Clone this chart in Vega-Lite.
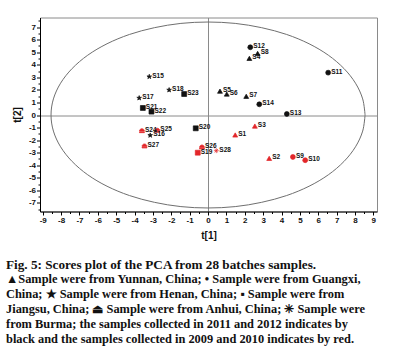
{
  "$schema": "https://vega.github.io/schema/vega-lite/v6.json",
  "width": 337,
  "height": 194,
  "autosize": {"type": "none"},
  "padding": {"left": 40, "top": 17.5, "right": 18, "bottom": 145.5},
  "background": "white",
  "config": {
    "view": {"stroke": "#8a8a8a", "strokeWidth": 1},
    "axis": {
      "labelFont": "Liberation Sans", "labelFontWeight": "bold", "labelFontSize": 8, "labelColor": "#111111",
      "titleFont": "Liberation Sans", "titleFontWeight": "bold", "titleFontSize": 10, "titleColor": "#111111",
      "domainColor": "#000000", "tickColor": "#000000"
    }
  },
  "title": {
    "text": "Fig. 5: Scores plot of the PCA from 28 batches samples.",
    "subtitle": [
      "▲Sample were from Yunnan, China; • Sample were from Guangxi,",
      "China; ★ Sample were from Henan, China; ▪ Sample were from",
      "Jiangsu, China; ⏏ Sample were from Anhui, China; ✳ Sample were",
      "from Burma; the samples collected in 2011 and 2012 indicates by",
      "black and the samples collected in 2009 and 2010 indicates by red."
    ],
    "orient": "bottom",
    "anchor": "start",
    "frame": "group",
    "dx": -34,
    "offset": 19,
    "font": "Liberation Serif",
    "fontSize": 13.2,
    "fontWeight": "bold",
    "color": "#111",
    "subtitleFont": "Liberation Serif",
    "subtitleFontSize": 12.4,
    "subtitleFontWeight": "bold",
    "subtitleColor": "#111",
    "subtitleLineHeight": 15,
    "subtitlePadding": 1
  },
  "datasets": {
    "samples": [
      {"s": "S1", "x": 1.48, "y": -1.59, "origin": "Yunnan", "period": "2009-2010"},
      {"s": "S2", "x": 3.33, "y": -3.45, "origin": "Yunnan", "period": "2009-2010"},
      {"s": "S3", "x": 2.55, "y": -0.88, "origin": "Yunnan", "period": "2009-2010"},
      {"s": "S4", "x": 2.25, "y": 4.51, "origin": "Yunnan", "period": "2011-2012"},
      {"s": "S5", "x": 0.65, "y": 1.9, "origin": "Yunnan", "period": "2011-2012"},
      {"s": "S6", "x": 1.02, "y": 1.67, "origin": "Yunnan", "period": "2011-2012"},
      {"s": "S7", "x": 2.08, "y": 1.49, "origin": "Yunnan", "period": "2011-2012"},
      {"s": "S8", "x": 2.7, "y": 4.9, "origin": "Yunnan", "period": "2011-2012"},
      {"s": "S9", "x": 4.62, "y": -3.34, "origin": "Guangxi", "period": "2009-2010"},
      {"s": "S10", "x": 5.29, "y": -3.6, "origin": "Guangxi", "period": "2009-2010"},
      {"s": "S11", "x": 6.54, "y": 3.37, "origin": "Guangxi", "period": "2011-2012"},
      {"s": "S12", "x": 2.3, "y": 5.39, "origin": "Guangxi", "period": "2011-2012"},
      {"s": "S13", "x": 4.29, "y": 0.08, "origin": "Guangxi", "period": "2011-2012"},
      {"s": "S14", "x": 2.79, "y": 0.85, "origin": "Guangxi", "period": "2011-2012"},
      {"s": "S15", "x": -3.2, "y": 3.05, "origin": "Henan", "period": "2011-2012"},
      {"s": "S16", "x": -3.15, "y": -1.62, "origin": "Henan", "period": "2011-2012"},
      {"s": "S17", "x": -3.75, "y": 1.35, "origin": "Henan", "period": "2011-2012"},
      {"s": "S18", "x": -2.12, "y": 1.99, "origin": "Henan", "period": "2011-2012"},
      {"s": "S19", "x": -0.56, "y": -3.0, "origin": "Jiangsu", "period": "2009-2010"},
      {"s": "S20", "x": -0.67, "y": -1.06, "origin": "Jiangsu", "period": "2011-2012"},
      {"s": "S21", "x": -3.55, "y": 0.56, "origin": "Jiangsu", "period": "2011-2012"},
      {"s": "S22", "x": -3.08, "y": 0.27, "origin": "Jiangsu", "period": "2011-2012"},
      {"s": "S23", "x": -1.3, "y": 1.67, "origin": "Jiangsu", "period": "2011-2012"},
      {"s": "S24", "x": -3.6, "y": -1.25, "origin": "Anhui", "period": "2009-2010"},
      {"s": "S25", "x": -2.76, "y": -1.22, "origin": "Anhui", "period": "2009-2010"},
      {"s": "S26", "x": -0.33, "y": -2.55, "origin": "Anhui", "period": "2009-2010"},
      {"s": "S27", "x": -3.46, "y": -2.47, "origin": "Anhui", "period": "2009-2010"},
      {"s": "S28", "x": 0.45, "y": -2.84, "origin": "Burma", "period": "2009-2010"}
    ],
    "ellipse": [
      {"i": 0, "x": 8.55, "y": 0}, {"i": 1, "x": 8.42, "y": 1.28}, {"i": 2, "x": 8.03, "y": 2.53},
      {"i": 3, "x": 7.4, "y": 3.7}, {"i": 4, "x": 6.55, "y": 4.76}, {"i": 5, "x": 5.5, "y": 5.67},
      {"i": 6, "x": 4.28, "y": 6.41}, {"i": 7, "x": 2.92, "y": 6.95}, {"i": 8, "x": 1.48, "y": 7.29},
      {"i": 9, "x": 0, "y": 7.4}, {"i": 10, "x": -1.48, "y": 7.29}, {"i": 11, "x": -2.92, "y": 6.95},
      {"i": 12, "x": -4.28, "y": 6.41}, {"i": 13, "x": -5.5, "y": 5.67}, {"i": 14, "x": -6.55, "y": 4.76},
      {"i": 15, "x": -7.4, "y": 3.7}, {"i": 16, "x": -8.03, "y": 2.53}, {"i": 17, "x": -8.42, "y": 1.28},
      {"i": 18, "x": -8.55, "y": 0}, {"i": 19, "x": -8.42, "y": -1.28}, {"i": 20, "x": -8.03, "y": -2.53},
      {"i": 21, "x": -7.4, "y": -3.7}, {"i": 22, "x": -6.55, "y": -4.76}, {"i": 23, "x": -5.5, "y": -5.67},
      {"i": 24, "x": -4.28, "y": -6.41}, {"i": 25, "x": -2.92, "y": -6.95}, {"i": 26, "x": -1.48, "y": -7.29},
      {"i": 27, "x": 0, "y": -7.4}, {"i": 28, "x": 1.48, "y": -7.29}, {"i": 29, "x": 2.92, "y": -6.95},
      {"i": 30, "x": 4.28, "y": -6.41}, {"i": 31, "x": 5.5, "y": -5.67}, {"i": 32, "x": 6.55, "y": -4.76},
      {"i": 33, "x": 7.4, "y": -3.7}, {"i": 34, "x": 8.03, "y": -2.53}, {"i": 35, "x": 8.42, "y": -1.28},
      {"i": 36, "x": 8.55, "y": 0}
    ],
    "one": [{}]
  },
  "encoding": {
    "x": {
      "field": "x", "type": "quantitative", "title": "t[1]",
      "scale": {"domain": [-9.15, 9.2], "nice": false, "zero": false},
      "axis": {
        "values": [-9,-8.5,-8,-7.5,-7,-6.5,-6,-5.5,-5,-4.5,-4,-3.5,-3,-2.5,-2,-1.5,-1,-0.5,0,0.5,1,1.5,2,2.5,3,3.5,4,4.5,5,5.5,6,6.5,7,7.5,8,8.5,9],
        "labelExpr": "datum.value % 1 === 0 ? '' + datum.value : ''",
        "tickSize": {"condition": {"test": "datum.value % 1 !== 0", "value": 2}, "value": 3.5},
        "grid": true,
        "gridColor": "#8a8a8a",
        "gridOpacity": {"condition": {"test": "datum.value === 0", "value": 1}, "value": 0},
        "labelOverlap": false, "labelFlush": false, "labelPadding": 1, "titlePadding": 6
      }
    },
    "y": {
      "field": "y", "type": "quantitative", "title": "t[2]",
      "scale": {"domain": [-7.68, 7.76], "nice": false, "zero": false},
      "axis": {
        "values": [-7.5,-7,-6.5,-6,-5.5,-5,-4.5,-4,-3.5,-3,-2.5,-2,-1.5,-1,-0.5,0,0.5,1,1.5,2,2.5,3,3.5,4,4.5,5,5.5,6,6.5,7,7.5],
        "labelExpr": "datum.value % 1 === 0 ? '' + datum.value : ''",
        "tickSize": {"condition": {"test": "datum.value % 1 !== 0", "value": 2}, "value": 3.5},
        "grid": true,
        "gridColor": "#8a8a8a",
        "gridOpacity": {"condition": {"test": "datum.value === 0", "value": 1}, "value": 0},
        "labelOverlap": false, "labelFlush": false, "labelPadding": 1, "titlePadding": 6
      }
    }
  },
  "layer": [
    {
      "data": {"name": "ellipse"},
      "mark": {"type": "line", "color": "#6f6f6f", "strokeWidth": 1, "interpolate": "cardinal"},
      "encoding": {
        "order": {"field": "i", "type": "quantitative"}
      }
    },
    {
      "data": {"name": "samples"},
      "mark": {"type": "point", "filled": true, "size": 24, "strokeWidth": 0.7, "opacity": 1},
      "encoding": {
        "shape": {
          "field": "origin", "type": "nominal", "legend": null,
          "scale": {
            "domain": ["Yunnan", "Guangxi", "Henan", "Jiangsu", "Anhui", "Burma"],
            "range": [
              "triangle-up",
              "circle",
              "M0,-1L0.223,-0.307L0.951,-0.309L0.361,0.117L0.588,0.809L0,0.38L-0.588,0.809L-0.361,0.117L-0.951,-0.309L-0.223,-0.307Z",
              "square",
              "M-1,0.15A1,1 0 0 1 1,0.15Z M-1,0.45L1,0.45L1,0.8L-1,0.8Z",
              "M-1,0L1,0M0,-1L0,1M-0.7,-0.7L0.7,0.7M-0.7,0.7L0.7,-0.7"
            ]
          }
        },
        "fill": {
          "field": "period", "type": "nominal", "legend": null,
          "scale": {"domain": ["2011-2012", "2009-2010"], "range": ["#111111", "#e3262a"]}
        },
        "stroke": {
          "field": "period", "type": "nominal", "legend": null,
          "scale": {"domain": ["2011-2012", "2009-2010"], "range": ["#111111", "#e3262a"]}
        }
      }
    },
    {
      "data": {"name": "samples"},
      "mark": {"type": "text", "align": "left", "baseline": "middle", "dx": 3, "dy": -1, "font": "Liberation Sans", "fontWeight": "bold", "fontSize": 6.5, "color": "#111"},
      "encoding": {
        "text": {"field": "s", "type": "nominal"}
      }
    },
    {
      "data": {"name": "one"},
      "mark": {"type": "rect", "filled": false, "color": "#111", "strokeWidth": 1.2, "clip": false},
      "encoding": {
        "x": {"datum": -11.0, "type": "quantitative"},
        "x2": {"datum": 9.64},
        "y": {"datum": 8.35, "type": "quantitative"},
        "y2": {"datum": -10.5}
      }
    }
  ]
}
